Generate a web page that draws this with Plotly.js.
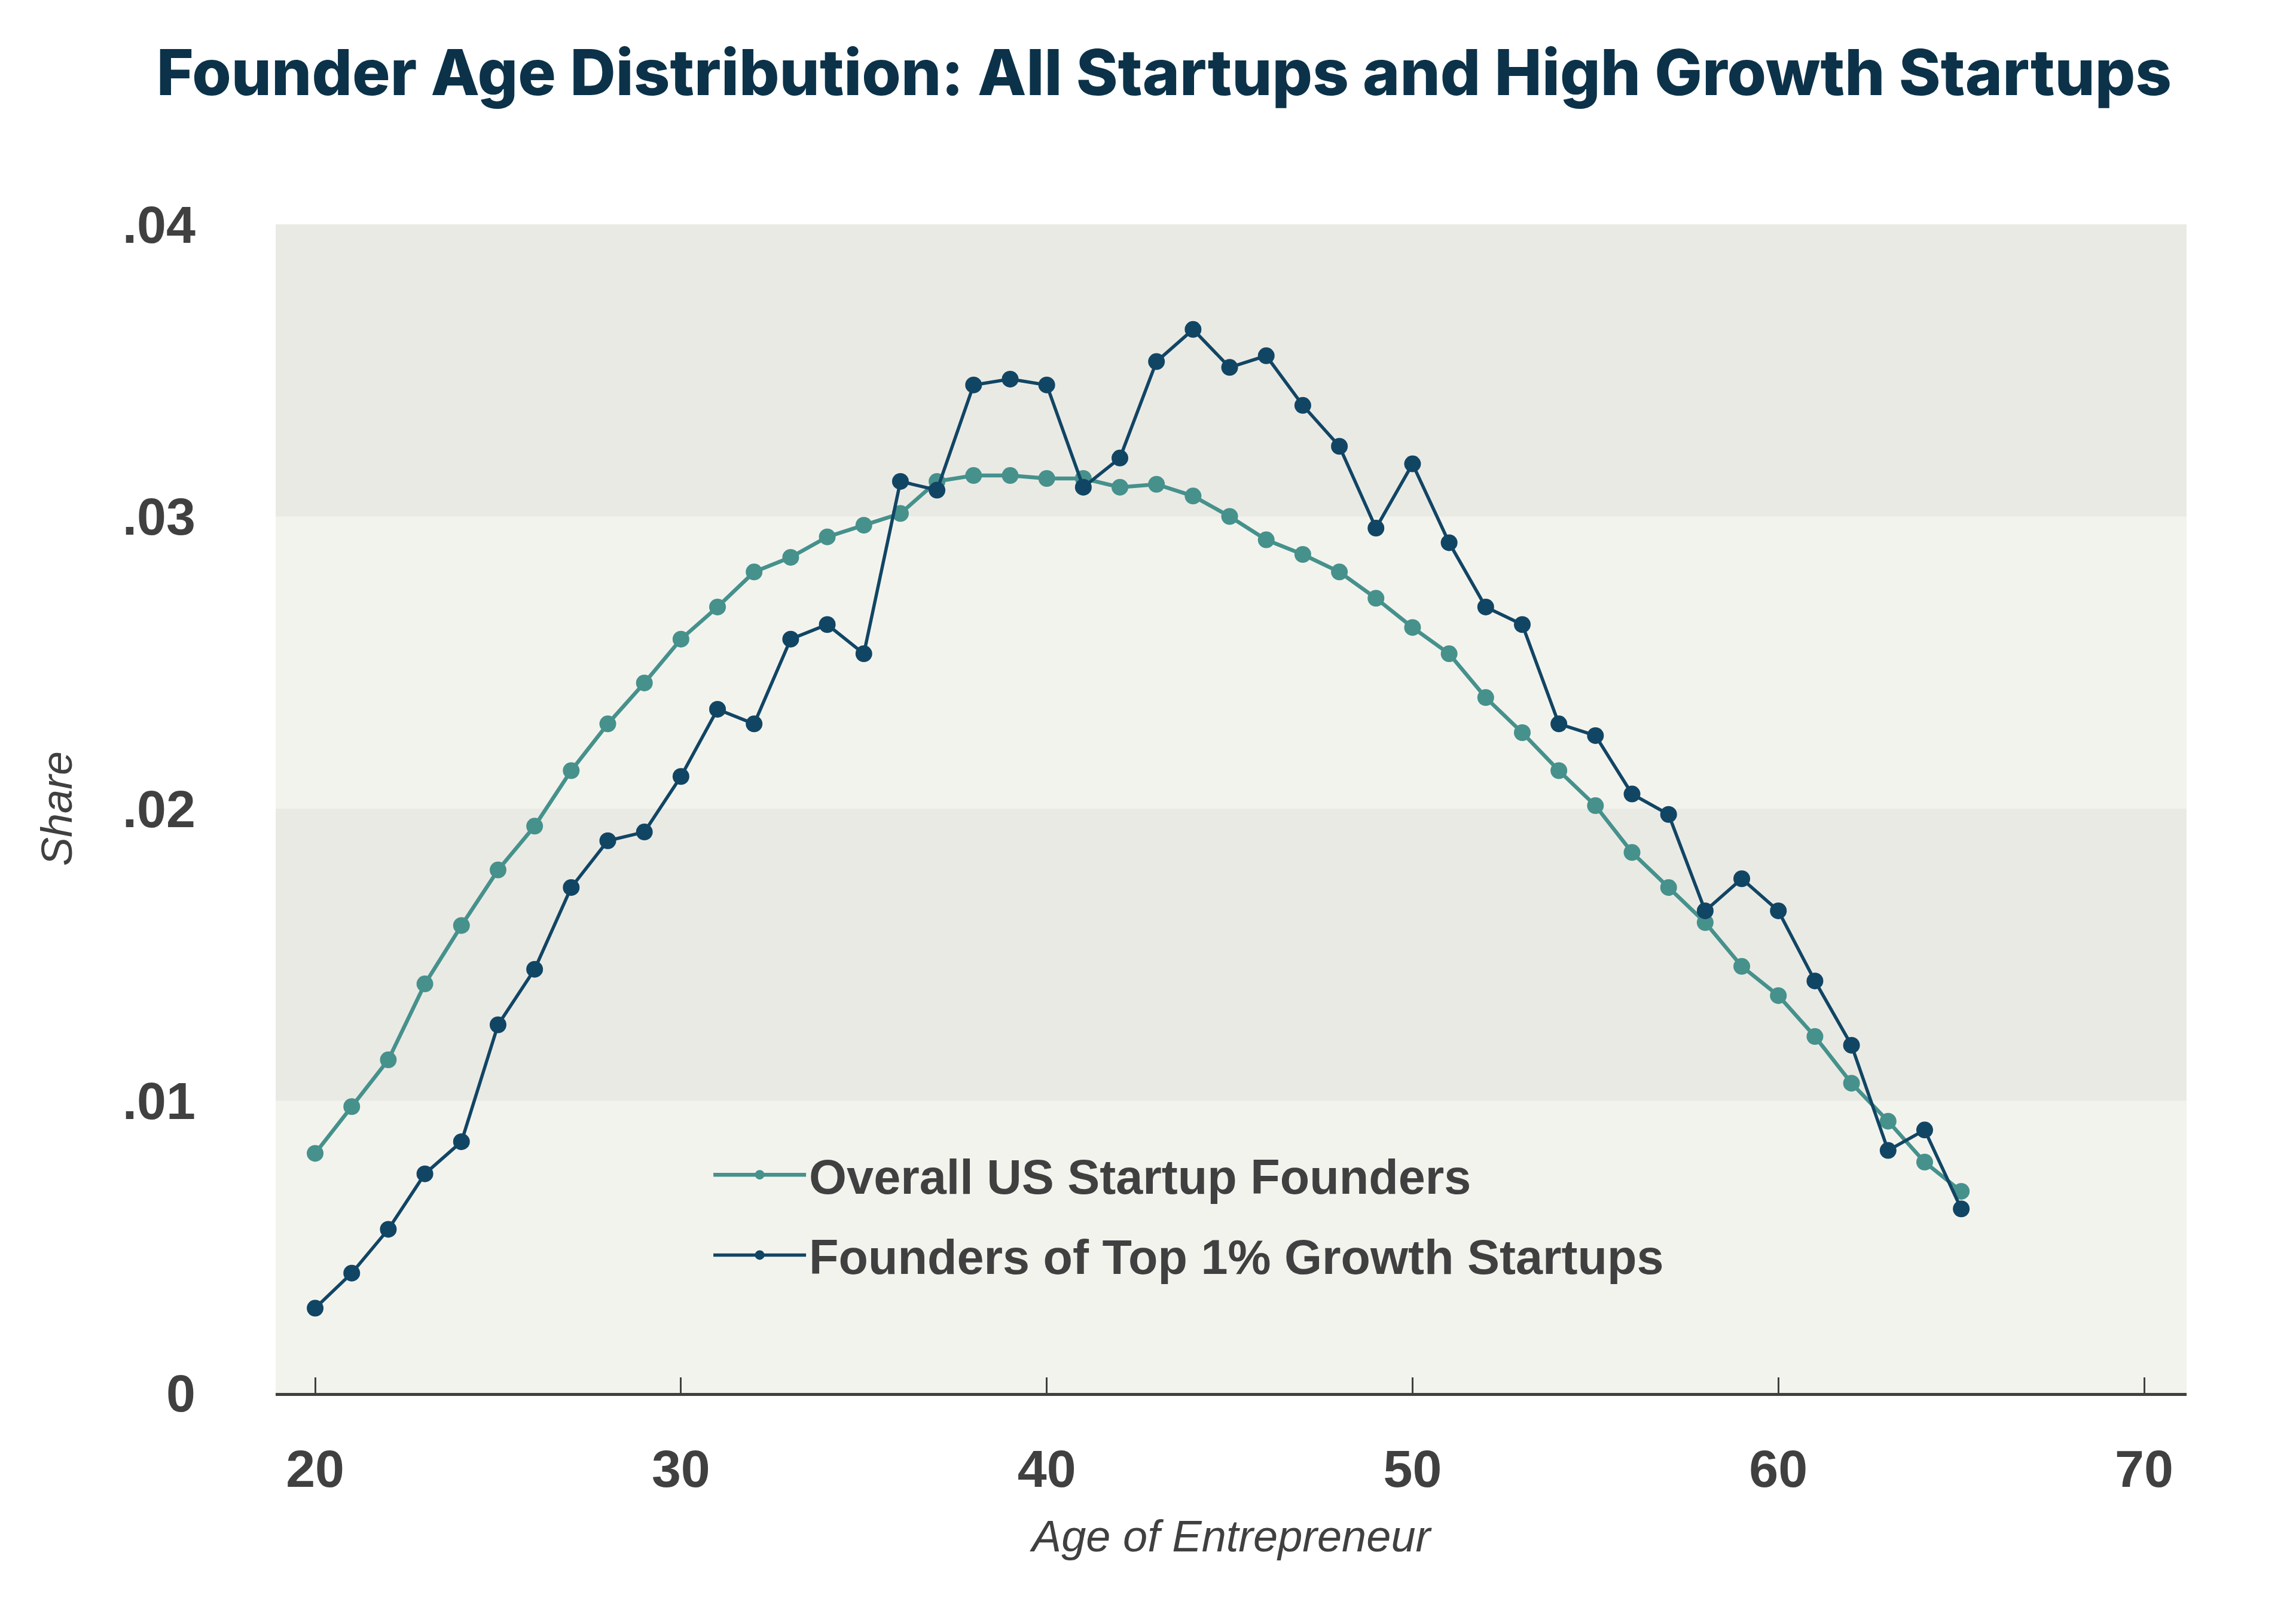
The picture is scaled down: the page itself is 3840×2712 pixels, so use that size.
<!DOCTYPE html>
<html>
<head>
<meta charset="utf-8">
<script src="https://cdn.plot.ly/plotly-3.0.1.min.js"></script>
<style>
  html, body { margin: 0; padding: 0; background: #ffffff; }
  #chart { width: 3840px; height: 2712px; }
</style>
</head>
<body>
<div id="chart"></div>
<script>
// Data
const ages = [20,21,22,23,24,25,26,27,28,29,30,31,32,33,34,35,36,37,38,39,40,41,42,43,44,45,46,47,48,49,50,51,52,53,54,55,56,57,58,59,60,61,62,63,64,65];

const overallShare = [0.0082,0.0098,0.0114,0.0140,0.0160,0.0179,0.0194,0.0213,0.0229,0.0243,0.0258,0.0269,0.0281,0.0286,0.0293,0.0297,0.0301,0.0312,0.0314,0.0314,0.0313,0.0313,0.0310,0.0311,0.0307,0.0300,0.0292,0.0287,0.0281,0.0272,0.0262,0.0253,0.0238,0.0226,0.0213,0.0201,0.0185,0.0173,0.0161,0.0146,0.0136,0.0122,0.0106,0.0093,0.0079,0.0069];

const topGrowthShare = [0.0029,0.0041,0.0056,0.0075,0.0086,0.0126,0.0145,0.0173,0.0189,0.0192,0.0211,0.0234,0.0229,0.0258,0.0263,0.0253,0.0312,0.0309,0.0345,0.0347,0.0345,0.0310,0.0320,0.0353,0.0364,0.0351,0.0355,0.0338,0.0324,0.0296,0.0318,0.0291,0.0269,0.0263,0.0229,0.0225,0.0205,0.0198,0.0165,0.0176,0.0165,0.0141,0.0119,0.0083,0.0090,0.0063];

const seriesNames = ["Overall US Startup Founders", "Founders of Top 1% Growth Startups"];
const xTickVals = [20,30,40,50,60,70];
const yTickVals = [0,0.01,0.02,0.03,0.04];
const yTickText = ["0",".01",".02",".03",".04"];
const bandRanges = [[0.01,0.02],[0.03,0.04]];

const teal = "#46918c";
const navy = "#114564";
const textGray = "#404040";
const sansBold = "'Liberation Sans', Arial, Helvetica, sans-serif";

const traces = [
  {
    x: ages, y: overallShare, name: seriesNames[0], type: "scatter", mode: "lines+markers",
    legendgroup: "a",
    line: { color: teal, width: 6.5 },
    marker: { color: teal, size: 28, line: { width: 0 } }
  },
  {
    x: ages, y: topGrowthShare, name: seriesNames[1], type: "scatter", mode: "lines+markers",
    legendgroup: "b",
    line: { color: navy, width: 5.5 },
    marker: { color: navy, size: 28, line: { width: 0 } }
  }
];

const shapes = bandRanges.map(r => ({
  type: "rect", xref: "paper", yref: "y", x0: 0, x1: 1, y0: r[0], y1: r[1],
  fillcolor: "#eaeae5", line: { width: 0 }, layer: "below"
}));

const layout = {
  width: 3840, height: 2712,
  paper_bgcolor: "#ffffff",
  plot_bgcolor: "#f3f3ee",
  margin: { l: 461, r: 183, t: 375, b: 383 },
  title: {
    text: "Founder Age Distribution: All Startups and High Growth Startups",
    font: { family: "Inter, 'Liberation Sans', sans-serif", size: 106, color: "#0b3249", weight: 800 },
    xref: "container", x: 0.507, xanchor: "center",
    yref: "container", y: 0.955, yanchor: "middle"
  },
  shapes: shapes,
  xaxis: {
    range: [18.92, 71.16],
    tickvals: xTickVals,
    ticks: "inside", ticklen: 26, tickwidth: 3, tickcolor: textGray,
    showline: true, linewidth: 5, linecolor: textGray,
    showgrid: false, zeroline: false,
    ticklabelstandoff: 46,
    tickfont: { family: sansBold, size: 88, color: textGray, weight: 700 },
    title: {
      text: "Age of Entrepreneur",
      font: { family: sansBold, size: 74, color: textGray, style: "italic" },
      standoff: 40
    }
  },
  yaxis: {
    range: [0, 0.04],
    tickvals: yTickVals, ticktext: yTickText,
    showline: false, showgrid: false, zeroline: false,
    ticks: "",
    ticklabelstandoff: 133,
    tickfont: { family: sansBold, size: 88, color: textGray, weight: 700 },
    title: {
      text: "Share",
      font: { family: sansBold, size: 72, color: textGray, style: "italic" },
      standoff: 60
    }
  },
  legend: {
    x: 0.2275, xanchor: "left", y: 0.217, yanchor: "top",
    bgcolor: "rgba(0,0,0,0)", borderwidth: 0,
    itemwidth: 155, tracegroupgap: 26,
    font: { family: sansBold, size: 81, color: textGray, weight: 700 }
  },
  showlegend: true
};

Plotly.newPlot("chart", traces, layout, { displayModeBar: false, staticPlot: true });
</script>
</body>
</html>
